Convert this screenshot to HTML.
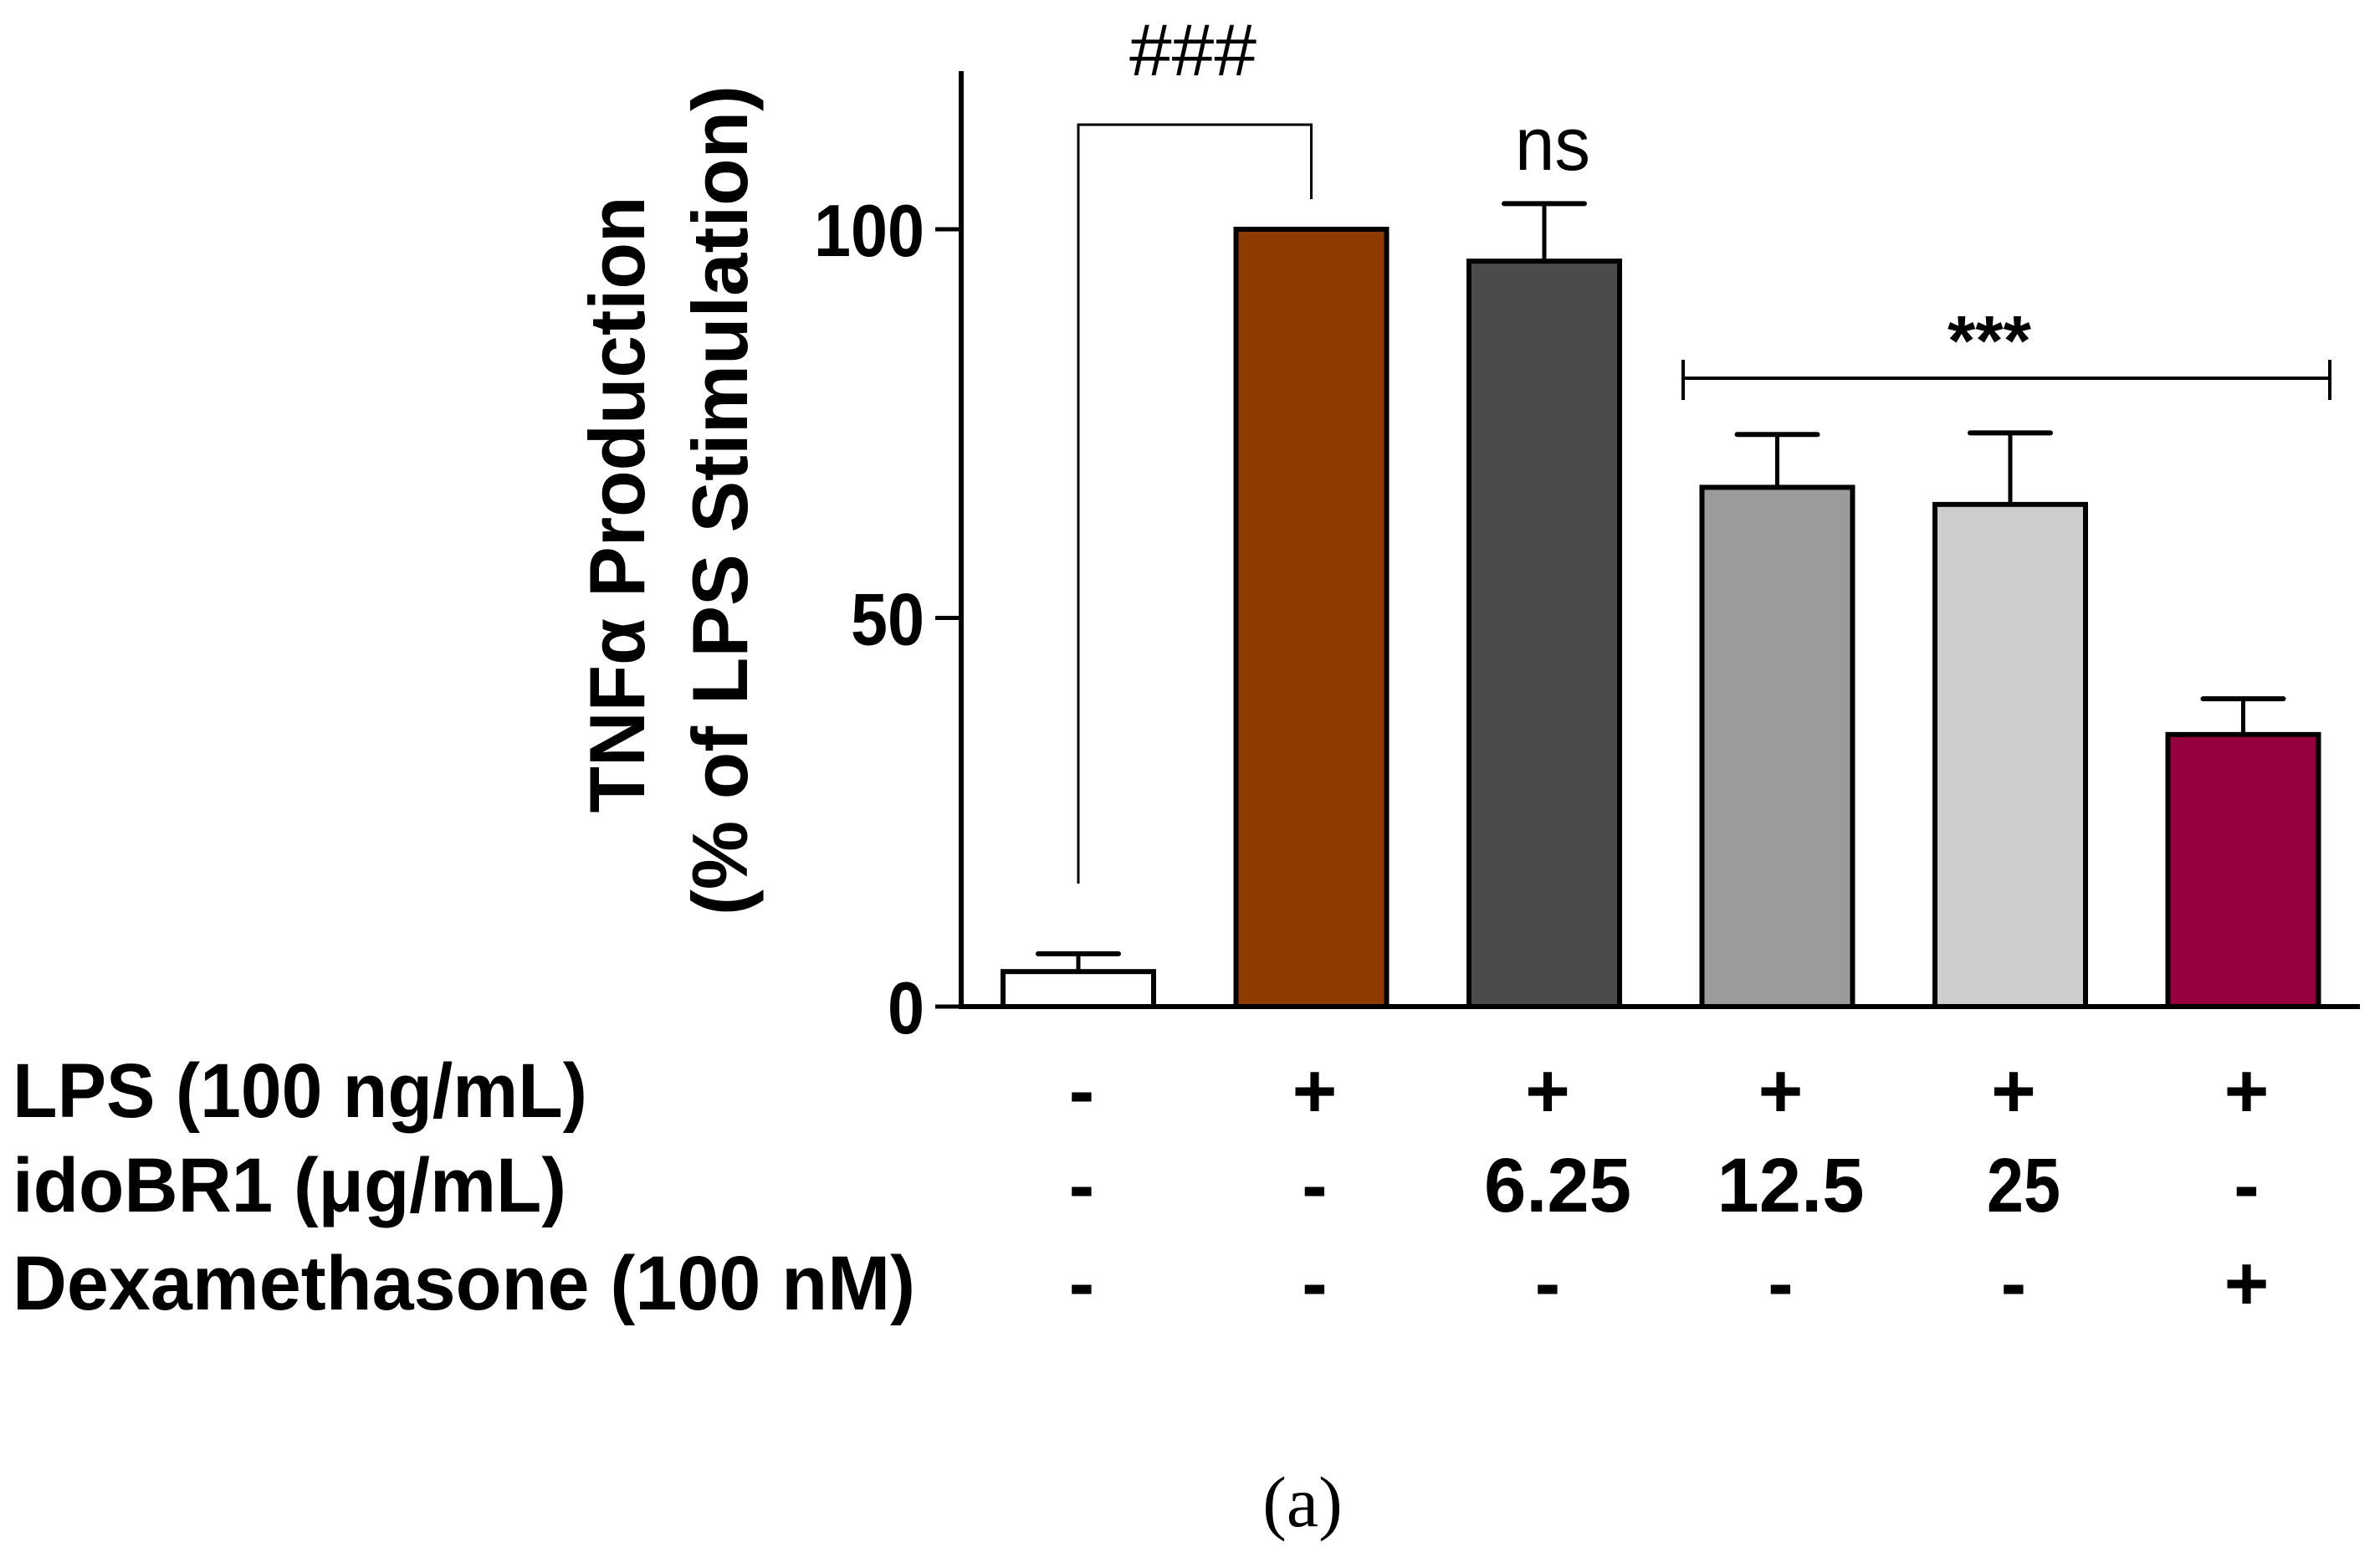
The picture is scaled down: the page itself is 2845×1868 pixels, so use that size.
<!DOCTYPE html>
<html><head><meta charset="utf-8"><style>
html,body{margin:0;padding:0;background:#fff;}
svg{display:block;}
</style></head><body>
<svg id="chart" width="2845" height="1868" viewBox="0 0 2845 1868" xmlns="http://www.w3.org/2000/svg" font-family="Liberation Sans, sans-serif">
<rect width="2845" height="1868" fill="#fff"/>
<g id="yTitle" font-weight="bold" font-size="94">
  <text transform="translate(770,603) rotate(-90)" text-anchor="middle" textLength="737" lengthAdjust="spacingAndGlyphs">TNFα Production</text>
  <text transform="translate(893,598) rotate(-90)" text-anchor="middle" textLength="992" lengthAdjust="spacingAndGlyphs">(% of LPS Stimulation)</text>
</g>
<g id="axes"></g>
<g id="bars"></g>
<g id="annot"></g>
<g id="rows"></g>
<text x="1557" y="1824" text-anchor="middle" style="font-family:'Liberation Serif',serif" font-size="86">(a)</text>
</svg>
<script>
const categories = ["Control","LPS","idoBR1 6.25","idoBR1 12.5","idoBR1 25","Dexamethasone"];
const values = [4.5, 100, 95.9, 66.8, 64.6, 35.0];
const errors = [2.3, 0, 7.4, 6.8, 9.2, 4.6];
const colors = ["#ffffff","#8f3b00","#4b4b4b","#9b9b9b","#cdcdcd","#96003e"];
const yTicks = [0, 50, 100];
const lpsRow = ["-","+","+","+","+","+"];
const idoRow = ["-","-","6.25","12.5","25","-"];
const dexRow = ["-","-","-","-","-","+"];

const NS="http://www.w3.org/2000/svg";
const X0=1289, STEP=278.5, BW=180;
const Y0=1203, PER=9.29;
function xc(i){return X0+STEP*i;}
function y(v){return Y0-v*PER;}
function mk(tag,attrs,parent,txt){const e=document.createElementNS(NS,tag);for(const k in attrs)e.setAttribute(k,attrs[k]);if(txt!==undefined)e.textContent=txt;parent.appendChild(e);return e;}

const axes=document.getElementById('axes');
let l=mk('line',{x1:1149,y1:85,x2:1149,y2:Y0,stroke:'#000','stroke-width':6},axes);


l=mk('line',{x1:1146,y1:Y0,x2:2821,y2:Y0,stroke:'#000','stroke-width':6},axes);


yTicks.forEach(t=>{
  const tk=mk('line',{x1:1118,y1:y(t),x2:1149,y2:y(t),stroke:'#000','stroke-width':5},axes);
  
  
  const s=String(t);
  const tx=mk('text',{x:1105,y:y(t)+32,'text-anchor':'end','font-weight':'bold','font-size':88,textLength:s.length*44,lengthAdjust:'spacingAndGlyphs'},axes,s);
  
  
});

const bars=document.getElementById('bars');
values.forEach((v,i)=>{
  const cx=xc(i);
  if(errors[i]>0){
    const e1=mk('line',{x1:cx,y1:y(v),x2:cx,y2:y(v+errors[i]),stroke:'#000','stroke-width':5},bars);
    
    
    const e2=mk('line',{x1:cx-48,y1:y(v+errors[i]),x2:cx+48,y2:y(v+errors[i]),stroke:'#000','stroke-width':6,'stroke-linecap':'round'},bars);
    
    
  }
  const r=mk('rect',{x:cx-BW/2,y:y(v),width:BW,height:Y0-y(v),fill:colors[i],stroke:'#000','stroke-width':6},bars);
  
  
});

const an=document.getElementById('annot');
let p=mk('path',{d:`M${xc(0)} 1056 V149 H${xc(1)} V238`,fill:'none',stroke:'#000','stroke-width':3},an);


let t=mk('text',{x:1426,y:90,'text-anchor':'middle','font-size':88,textLength:152,lengthAdjust:'spacingAndGlyphs'},an,'###');


t=mk('text',{x:1856,y:203,'text-anchor':'middle','font-size':90,textLength:90,lengthAdjust:'spacingAndGlyphs'},an,'ns');


p=mk('path',{d:'M2012 452 H2785 M2012 430 V478 M2785 430 V478',fill:'none',stroke:'#000','stroke-width':4},an);


t=mk('text',{x:2378,y:436,'text-anchor':'middle','font-size':84,'font-weight':'bold',textLength:100,lengthAdjust:'spacingAndGlyphs'},an,'***');



const rows=document.getElementById('rows');
const rowDefs=[
  {label:'LPS (100 ng/mL)',len:687,base:1335,vals:lpsRow,name:'lps-row'},
  {label:'idoBR1 (μg/mL)',len:662,base:1448,vals:idoRow,name:'idobr1-row'},
  {label:'Dexamethasone (100 nM)',len:1079,base:1565,vals:dexRow,name:'dexamethasone-row'}
];
rowDefs.forEach(rd=>{
  const lb=mk('text',{x:15,y:rd.base,'font-weight':'bold','font-size':92,textLength:rd.len,lengthAdjust:'spacingAndGlyphs'},rows,rd.label);
  
  
  rd.vals.forEach((v,i)=>{
    const isNum=v.length>1;
    const attrs={x:xc(i)+(isNum?16:4),y:rd.base,'text-anchor':'middle','font-weight':'bold','font-size':92};
    if(isNum){attrs.textLength=v.length*44;attrs.lengthAdjust='spacingAndGlyphs';}
    const c=mk('text',attrs,rows,v);
    
    
  });
});
</script>
</body></html>
